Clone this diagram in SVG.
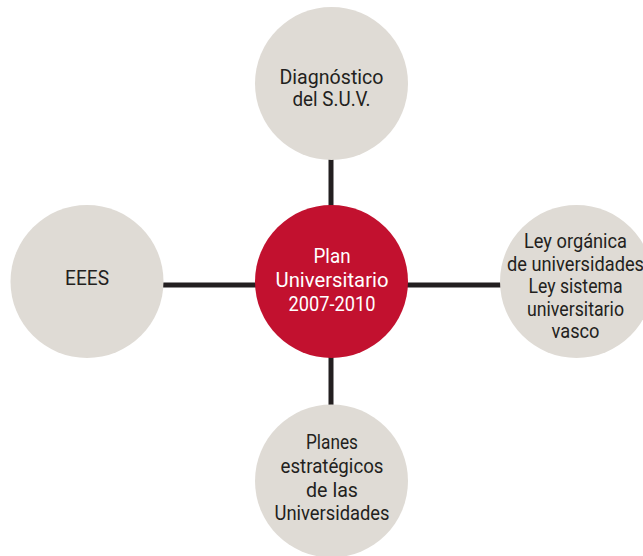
<svg xmlns="http://www.w3.org/2000/svg" width="643" height="556" viewBox="0 0 643 556">
<style>
.sat{fill:#dfdbd5}
.hub{fill:#c2112f}
.t{font-family:Roboto,"Liberation Sans",sans-serif;font-size:21px;text-anchor:middle;fill:#231f20}
.w{fill:#ffffff}
.ln{stroke:#231f20;stroke-width:5;fill:none}
</style>
<rect width="643" height="556" fill="#ffffff"/>
<g id="connectors">
<line class="ln" x1="331" y1="150" x2="331" y2="215"/>
<line class="ln" x1="331" y1="350" x2="331" y2="415"/>
<line class="ln" x1="155" y1="285" x2="265" y2="285"/>
<line class="ln" x1="400" y1="285" x2="510" y2="285"/>
</g>
<g id="top">
<circle class="sat" cx="331.5" cy="83.5" r="76.5"/>
<text class="t" x="331.5" y="83.5" textLength="104" lengthAdjust="spacingAndGlyphs">Diagnóstico</text>
<text class="t" x="331.5" y="106" textLength="78" lengthAdjust="spacingAndGlyphs">del S.U.V.</text>
</g>
<g id="left">
<circle class="sat" cx="87" cy="281.5" r="76.5"/>
<text class="t" x="87" y="285" textLength="44" lengthAdjust="spacingAndGlyphs">EEES</text>
</g>
<g id="right">
<circle class="sat" cx="576.5" cy="281.5" r="76.5"/>
<text class="t" x="575.5" y="248.3" textLength="103" lengthAdjust="spacingAndGlyphs">Ley orgánica</text>
<text class="t" x="575.5" y="270.7" textLength="137" lengthAdjust="spacingAndGlyphs">de universidades</text>
<text class="t" x="575.5" y="293.3" textLength="94" lengthAdjust="spacingAndGlyphs">Ley sistema</text>
<text class="t" x="575.5" y="315.5" textLength="97" lengthAdjust="spacingAndGlyphs">universitario</text>
<text class="t" x="575.5" y="338" textLength="48" lengthAdjust="spacingAndGlyphs">vasco</text>
</g>
<g id="bottom">
<circle class="sat" cx="331.5" cy="481" r="76.5"/>
<text class="t" x="332" y="449.3" textLength="52" lengthAdjust="spacingAndGlyphs">Planes</text>
<text class="t" x="332" y="473" textLength="103" lengthAdjust="spacingAndGlyphs">estratégicos</text>
<text class="t" x="332" y="497.3" textLength="52" lengthAdjust="spacingAndGlyphs">de las</text>
<text class="t" x="332" y="520" textLength="115" lengthAdjust="spacingAndGlyphs">Universidades</text>
</g>
<g id="center">
<circle class="hub" cx="331.5" cy="281.5" r="76.5"/>
<text class="t w" x="332" y="262.7" textLength="37" lengthAdjust="spacingAndGlyphs">Plan</text>
<text class="t w" x="332" y="286.7" textLength="113" lengthAdjust="spacingAndGlyphs">Universitario</text>
<text class="t w" x="332" y="310.7" textLength="87" lengthAdjust="spacingAndGlyphs">2007-2010</text>
</g>
</svg>
